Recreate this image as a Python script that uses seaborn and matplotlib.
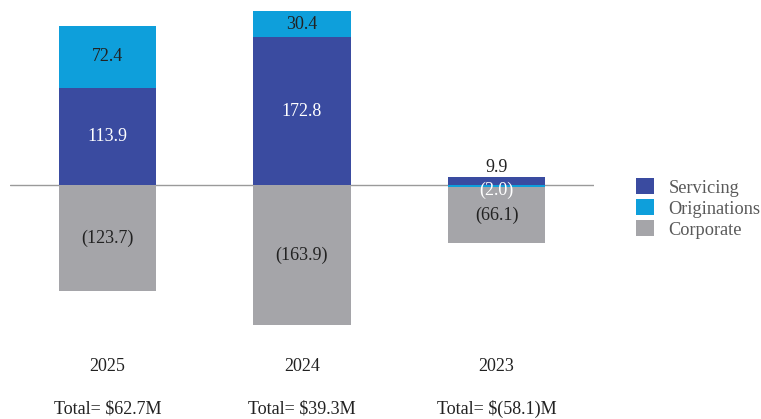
import matplotlib
matplotlib.use("Agg")
import matplotlib.pyplot as plt
import matplotlib.transforms as mtransforms
from matplotlib.patches import Patch
import seaborn as sns
import pandas as pd
import numpy as np

years = ["2025", "2024", "2023"]
servicing = [113.9, 172.8, 9.9]
originations = [72.4, 30.4, -2.0]
corporate = [-123.7, -163.9, -66.1]
totals = ["Total= $62.7M", "Total= $39.3M", "Total= $(58.1)M"]
series_names = ["Servicing", "Originations", "Corporate"]
colors = ["#3A4BA0", "#0E9FDB", "#A5A5A9"]
label_colors = ["white", "#222222", "#222222"]

sns.set_theme(style="white")
plt.rcParams["font.family"] = ["Liberation Serif", "DejaVu Serif"]

fig = plt.figure(figsize=(7.61, 4.19), dpi=100)
top_px, bot_px = 185 - 210 * 0.855, 185 + 200 * 0.855
ax = fig.add_axes([10 / 761, 1 - bot_px / 419, 584 / 761, (bot_px - top_px) / 419])

series = [servicing, originations, corporate]
pos_base = np.zeros(3)
neg_base = np.zeros(3)
bottoms = []
for vals in series:
    v = np.array(vals)
    b = np.where(v >= 0, pos_base, neg_base)
    bottoms.append(b.copy())
    pos_base = np.where(v >= 0, pos_base + v, pos_base)
    neg_base = np.where(v < 0, neg_base + v, neg_base)

ax.axhline(0, color="#9A9A9A", lw=1, zorder=0)

for name, vals, b, c in zip(series_names, series, bottoms, colors):
    df = pd.DataFrame({"year": years, "value": vals})
    sns.barplot(data=df, x="year", y="value", order=years, bottom=b,
                color=c, saturation=1, width=0.5, linewidth=0, errorbar=None,
                ax=ax, zorder=2)

# value labels
for i in range(3):
    for k, (vals, b) in enumerate(zip(series, bottoms)):
        v = vals[i]
        txt = f"{v:.1f}" if v >= 0 else f"({abs(v):.1f})"
        col = label_colors[k]
        if abs(v) < 15:
            if v >= 0:
                y = b[i] + v + 10
                col = "#222222"
            else:
                y = b[i] + v - 4
                col = "white"
        else:
            y = b[i] + v / 2
        ax.text(i, y, txt, ha="center", va="center", fontsize=13, color=col, zorder=3)

ax.set_xlim(-0.5, 2.5)
ax.set_ylim(-200, 210)
ax.axis("off")

trans = mtransforms.blended_transform_factory(ax.transData, fig.transFigure)
for i, (yr, tot) in enumerate(zip(years, totals)):
    ax.text(i, 1 - 366 / 419, yr, transform=trans, ha="center", va="center",
            fontsize=13, color="#222222")
    ax.text(i, 1 - 409 / 419, tot, transform=trans, ha="center", va="center",
            fontsize=13, color="#222222")

handles = [Patch(facecolor=c, edgecolor="none") for c in colors]
fig.legend(handles, series_names, loc="upper left",
           bbox_to_anchor=(636 / 761, 1 - 178.5 / 419), bbox_transform=fig.transFigure,
           frameon=False, fontsize=13.2, handlelength=0.98, handleheight=0.95,
           labelspacing=0.15, handletextpad=0.78, borderpad=0, borderaxespad=0,
           labelcolor="#595959")

fig.savefig("out.png", dpi=100)
